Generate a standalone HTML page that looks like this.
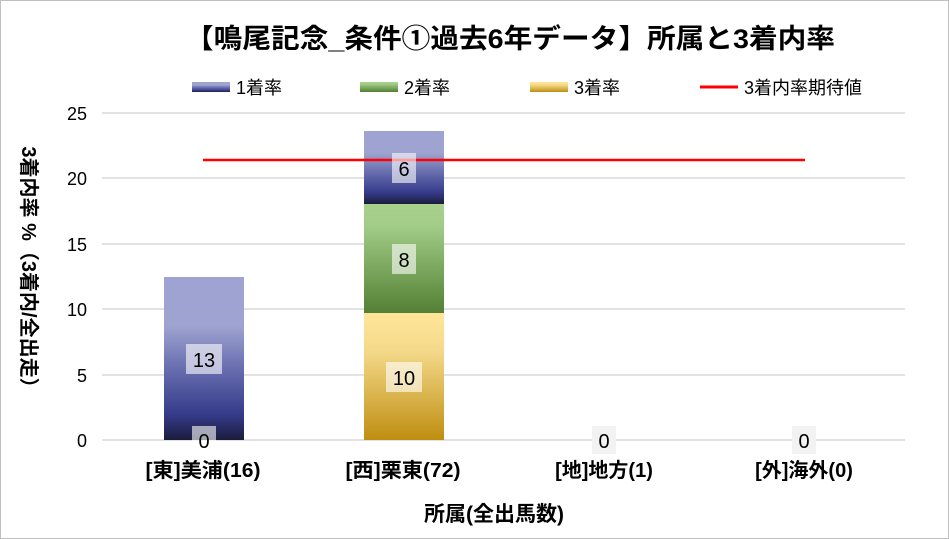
<!DOCTYPE html>
<html><head><meta charset="utf-8"><style>body{margin:0;background:#fff}svg{display:block;font-family:"Liberation Sans","Noto Sans CJK JP",sans-serif}</style></head><body>
<svg width="949" height="539" viewBox="0 0 949 539">
<defs>
<linearGradient id="b" x1="0" y1="0" x2="0" y2="1"><stop offset="0" stop-color="#9FA3D3"/><stop offset="0.3" stop-color="#9FA3D0"/><stop offset="0.55" stop-color="#6A70B0"/><stop offset="0.85" stop-color="#343A88"/><stop offset="1" stop-color="#1B1C3C"/></linearGradient>
<linearGradient id="g" x1="0" y1="0" x2="0" y2="1"><stop offset="0" stop-color="#A8D18C"/><stop offset="0.2" stop-color="#A2CC87"/><stop offset="1" stop-color="#538034"/></linearGradient>
<linearGradient id="y" x1="0" y1="0" x2="0" y2="1"><stop offset="0" stop-color="#FFE699"/><stop offset="0.3" stop-color="#F4D98A"/><stop offset="1" stop-color="#BF8E10"/></linearGradient>
</defs>
<rect x="0.5" y="0.5" width="948" height="538" fill="#fff" stroke="#bfbfbf"/>
<text x="510" y="48" font-size="27" font-weight="bold" text-anchor="middle" fill="#000" textLength="650" lengthAdjust="spacingAndGlyphs">【鳴尾記念_条件①過去6年データ】所属と3着内率</text>
<rect x="192" y="82" width="38" height="10" fill="url(#b)"/><text x="236" y="94" font-size="18">1着率</text>
<rect x="360" y="82" width="38" height="10" fill="url(#g)"/><text x="404" y="94" font-size="18">2着率</text>
<rect x="530" y="82" width="38" height="10" fill="url(#y)"/><text x="574" y="94" font-size="18">3着率</text>
<line x1="700" y1="87" x2="738" y2="87" stroke="#f00" stroke-width="3"/><text x="744" y="94" font-size="18">3着内率期待値</text>
<g stroke="#d9d9d9" stroke-width="1.5">
<line x1="102" y1="113" x2="905" y2="113"/><line x1="102" y1="178" x2="905" y2="178"/><line x1="102" y1="244" x2="905" y2="244"/><line x1="102" y1="309" x2="905" y2="309"/><line x1="102" y1="375" x2="905" y2="375"/><line x1="102" y1="440" x2="905" y2="440"/>
</g>
<g font-size="18" text-anchor="end" fill="#000">
<text x="87" y="120">25</text><text x="87" y="185">20</text><text x="87" y="251">15</text><text x="87" y="316">10</text><text x="87" y="382">5</text><text x="87" y="447">0</text>
</g>
<rect x="164" y="277" width="80" height="163" fill="url(#b)"/>
<rect x="364" y="131" width="80" height="73" fill="url(#b)"/>
<rect x="364" y="204" width="80" height="109" fill="url(#g)"/>
<rect x="364" y="313" width="80" height="127" fill="url(#y)"/>
<line x1="203" y1="160" x2="805" y2="160" stroke="#f00" stroke-width="2.5"/>
<g fill="#fff" fill-opacity="0.6">
<rect x="186" y="344" width="36" height="30"/><rect x="192" y="426" width="24" height="28"/>
<rect x="392" y="153" width="24" height="30"/><rect x="392" y="244" width="24" height="30"/><rect x="386" y="362" width="36" height="30"/>
</g>
<rect x="592" y="426" width="24" height="28" fill="#f2f2f2"/><rect x="792" y="426" width="24" height="28" fill="#f2f2f2"/>
<g font-size="20" text-anchor="middle" fill="#000">
<text x="204" y="367">13</text><text x="204" y="448">0</text>
<text x="404" y="176">6</text><text x="404" y="267">8</text><text x="404" y="385">10</text>
<text x="604" y="448">0</text><text x="804" y="448">0</text>
</g>
<g font-size="20" font-weight="bold" text-anchor="middle" fill="#000">
<text x="203" y="477" textLength="115" lengthAdjust="spacingAndGlyphs">[東]美浦(16)</text><text x="403" y="477" textLength="115" lengthAdjust="spacingAndGlyphs">[西]栗東(72)</text><text x="604" y="477">[地]地方(1)</text><text x="804" y="477">[外]海外(0)</text>
<text x="494" y="521" font-size="21">所属(全出馬数)</text>
</g>
<text transform="translate(22,272) rotate(90)" font-size="20" font-weight="bold" text-anchor="middle">3着内率 %（3着内/全出走）</text>
</svg>
</body></html>
